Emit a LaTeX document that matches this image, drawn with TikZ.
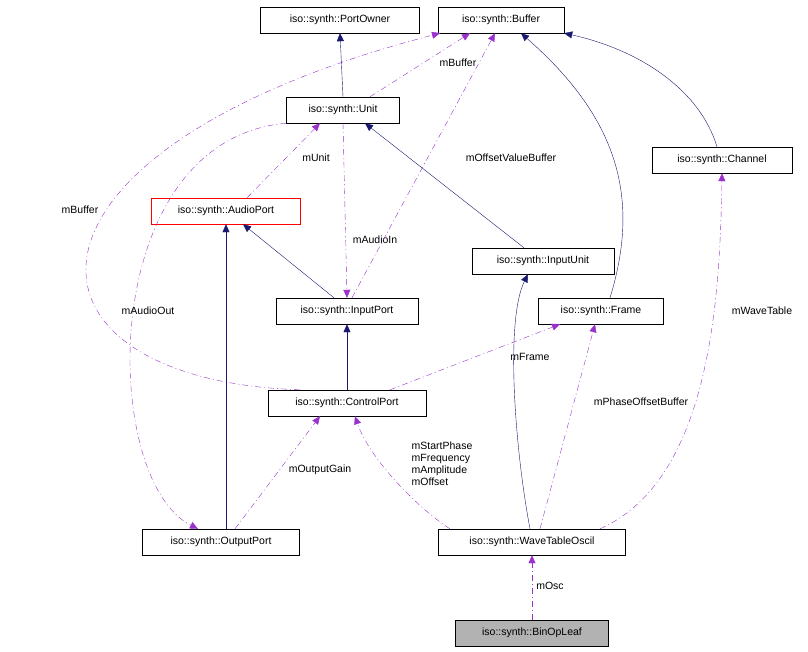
\documentclass[tikz,border=0pt]{standalone}
\usepackage{fontspec}
\setmainfont{Liberation Sans}
\usetikzlibrary{arrows.meta}
\definecolor{navy}{RGB}{25,25,112}
\definecolor{purp}{RGB}{153,50,204}
\begin{document}
\begin{tikzpicture}[x=1pt,y=-1pt,
 box/.style={draw,fill=white,minimum height=26pt,inner sep=0pt,font=\fontsize{10.5}{12}\selectfont},
 inh/.style={navy,-{Triangle[length=8pt,width=7pt]}},
 use/.style={purp,dash pattern=on 6pt off 3pt on 1pt off 3pt,-{Triangle[length=8pt,width=7pt]}},
 lbl/.style={font=\fontsize{10.5}{12}\selectfont,inner sep=1pt,align=left}]
\useasboundingbox (0,0) rectangle (808,651);
\node[box,minimum width=159pt] (po) at (340,20) {iso::synth::PortOwner};
\node[box,minimum width=126pt] (buf) at (501,20) {iso::synth::Buffer};
\node[box,minimum width=113pt] (unit) at (343,110) {iso::synth::Unit};
\node[box,minimum width=140pt] (ch) at (722,160) {iso::synth::Channel};
\node[box,draw=red,minimum width=149pt] (ap) at (226,211) {iso::synth::AudioPort};
\node[box,minimum width=142pt] (iu) at (543,261) {iso::synth::InputUnit};
\node[box,minimum width=142pt] (ip) at (347,311) {iso::synth::InputPort};
\node[box,minimum width=125pt] (fr) at (601,311) {iso::synth::Frame};
\node[box,minimum width=158pt] (cp) at (347,403) {iso::synth::ControlPort};
\node[box,minimum width=157pt] (op) at (221,542) {iso::synth::OutputPort};
\node[box,minimum width=187pt] (wt) at (532,542) {iso::synth::WaveTableOscil};
\node[box,fill=black!30,minimum width=153pt] (bl) at (532,633) {iso::synth::BinOpLeaf};
% inheritance
\draw[inh] (unit.north) -- (po.south);
\draw[inh] ([xshift=-19pt]iu.north) -- ([xshift=22pt]unit.south);
\draw[inh] ([xshift=9pt]fr.north) .. controls (640,200) and (620,120) .. ([xshift=20pt]buf.south);
\draw[inh] ([xshift=-5pt]ch.north) .. controls (700,90) and (640,50) .. (buf.south east);
\draw[inh] ([xshift=-13pt]ip.north) -- ([xshift=17pt]ap.south);
\draw[inh] ([xshift=5pt]op.north) -- (ap.south);
\draw[inh] (cp.north) -- (ip.south);
\draw[inh] ([xshift=-2pt]wt.north) .. controls (515,450) and (505,320) .. ([xshift=-15pt]iu.south);
% usage
\draw[use] ([xshift=27pt]unit.north) -- ([xshift=-31pt]buf.south);
\node[lbl] at (458,63) {mBuffer};
\draw[use] ([xshift=21pt]ap.north) -- ([xshift=-23pt]unit.south);
\node[lbl] at (316,158) {mUnit};
\draw[use] (unit.south) -- (ip.north);
\node[lbl] at (375,240) {mAudioIn};
\draw[use] ([xshift=5pt]ip.north) -- ([xshift=-6pt]buf.south);
\node[lbl] at (511,158) {mOffsetValueBuffer};
\draw[use] ([xshift=-47pt]cp.north) .. controls (0,380) and (-10,150) .. ([xshift=-61pt]buf.south);
\node[lbl] at (80,210) {mBuffer};
\draw[use] (unit.south west) .. controls (95,140) and (100,480) .. ([xshift=-23pt]op.north);
\node[lbl] at (148,311) {mAudioOut};
\draw[use] ([xshift=43pt]cp.north) -- ([xshift=-41pt]fr.south);
\node[lbl] at (530,357) {mFrame};
\draw[use] ([xshift=14pt]op.north) -- ([xshift=-27pt]cp.south);
\node[lbl] at (320,470) {mOutputGain};
\draw[use] ([xshift=-82pt]wt.north) .. controls (420,510) and (370,460) .. ([xshift=8pt]cp.south);
\node[lbl] at (442,464) {mStartPhase\\mFrequency\\mAmplitude\\mOffset};
\draw[use] ([xshift=8pt]wt.north) -- ([xshift=-6pt]fr.south);
\node[lbl] at (641,402) {mPhaseOffsetBuffer};
\draw[use] ([xshift=68pt]wt.north) .. controls (710,480) and (720,300) .. (ch.south);
\node[lbl] at (762,311) {mWaveTable};
\draw[use] (bl.north) -- (wt.south);
\node[lbl] at (550,586) {mOsc};
\end{tikzpicture}
\end{document}
